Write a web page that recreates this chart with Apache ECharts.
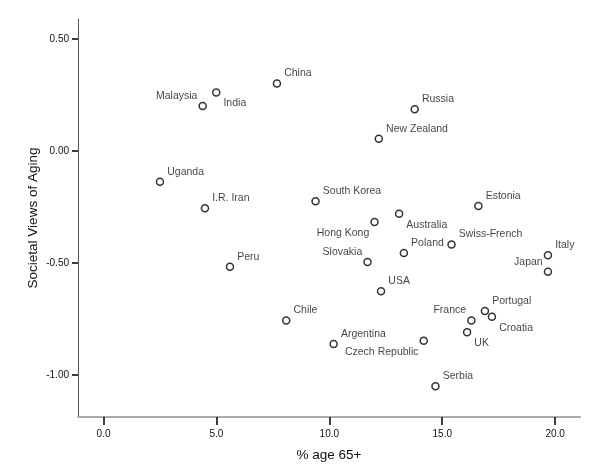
<!DOCTYPE html>
<html>
<head>
<meta charset="utf-8">
<script src="https://cdn.jsdelivr.net/npm/echarts@6/dist/echarts.min.js"></script>
<style>
  html, body { margin: 0; padding: 0; background: #fff; }
  #chart { width: 600px; height: 475px; }
</style>
</head>
<body>
<div id="chart"></div>
<script>
  // countries, % aged 65+, societal views of aging
  var countries = ['China', 'India', 'Malaysia', 'Uganda', 'I.R. Iran', 'Russia', 'New Zealand',
    'South Korea', 'Estonia', 'Australia', 'Hong Kong', 'Swiss-French', 'Poland', 'Slovakia',
    'Italy', 'Japan', 'USA', 'Portugal', 'Croatia', 'France', 'UK', 'Argentina',
    'Czech Republic', 'Serbia', 'Peru', 'Chile']
  var age65 = [7.68, 4.99, 4.39, 2.50, 4.49, 13.78, 12.19,
    9.39, 16.60, 13.09, 12.00, 15.41, 13.30, 11.69,
    19.68, 19.68, 12.29, 16.89, 17.20, 16.29, 16.10, 10.19,
    14.18, 14.70, 5.60, 8.09]
  var views = [0.301, 0.261, 0.201, -0.138, -0.256, 0.186, 0.054,
    -0.225, -0.246, -0.280, -0.317, -0.418, -0.456, -0.496,
    -0.466, -0.539, -0.627, -0.715, -0.740, -0.757, -0.810, -0.862,
    -0.847, -1.051, -0.517, -0.757]
  // where each label sits: ur upper right, lr lower right, ul upper left, ll lower left
  var labelSide = ['ur', 'lr', 'ul', 'ur', 'ur', 'ur', 'ur',
    'ur', 'ur', 'lr', 'll', 'ur', 'ur', 'ul',
    'ur', 'ul', 'ur', 'ur', 'lr', 'ul', 'lr', 'ur',
    'll', 'ur', 'ur', 'ur']
  var xTicks = [0, 5, 10, 15, 20]
  var yTicks = [-1, -0.5, 0, 0.5]

  var font = 'Arial, "Liberation Sans", sans-serif'

  function labelFor(side) {
    var right = side[1] === 'r'
    var up = side[0] === 'u'
    return {
      show: true,
      position: right ? 'right' : 'left',
      distance: right ? 3 : 1,
      offset: [0, up ? -10 : 11],
      formatter: '{b}',
      color: '#111',
      fontSize: 10.5,
      fontFamily: font
    }
  }

  var points = countries.map(function(name, i) {
    return {
      name: name,
      value: [age65[i], views[i]],
      label: labelFor(labelSide[i])
    }
  })

  var chart = echarts.init(document.getElementById('chart'))
  chart.setOption({
    animation: false,
    backgroundColor: '#fff',
    grid: { left: 78, right: 20, top: 19, bottom: 58 },
    xAxis: {
      type: 'value',
      min: -1.13,
      max: 21.1,
      name: '% age 65+',
      nameLocation: 'middle',
      nameGap: 31,
      nameMoveOverlap: false,
      nameTextStyle: { fontSize: 13.5, color: '#111', fontFamily: font },
      splitLine: { show: false },
      axisLine: { onZero: false, lineStyle: { color: '#aaa', width: 2 } },
      axisTick: { customValues: xTicks, length: 8, lineStyle: { color: '#000', width: 1.5 } },
      axisLabel: {
        customValues: xTicks,
        formatter: function(v) { return v.toFixed(1) },
        color: '#111',
        fontSize: 10,
        fontFamily: font,
        margin: 12
      }
    },
    yAxis: {
      type: 'value',
      min: -1.188,
      max: 0.589,
      name: 'Societal Views of Aging',
      nameLocation: 'middle',
      nameGap: 38,
      nameMoveOverlap: false,
      nameTextStyle: { fontSize: 13.5, color: '#111', fontFamily: font },
      splitLine: { show: false },
      axisLine: { onZero: false, lineStyle: { color: '#555', width: 1 } },
      axisTick: { customValues: yTicks, length: 6, lineStyle: { color: '#000', width: 1.5 } },
      axisLabel: {
        customValues: yTicks,
        formatter: function(v) { return v.toFixed(2) },
        color: '#111',
        fontSize: 10,
        fontFamily: font,
        margin: 9
      }
    },
    series: [
      {
        type: 'scatter',
        symbol: 'circle',
        symbolSize: 7,
        itemStyle: { color: '#fff', borderColor: '#000', borderWidth: 1.5 },
        data: points
      }
    ]
  })
</script>
</body>
</html>
